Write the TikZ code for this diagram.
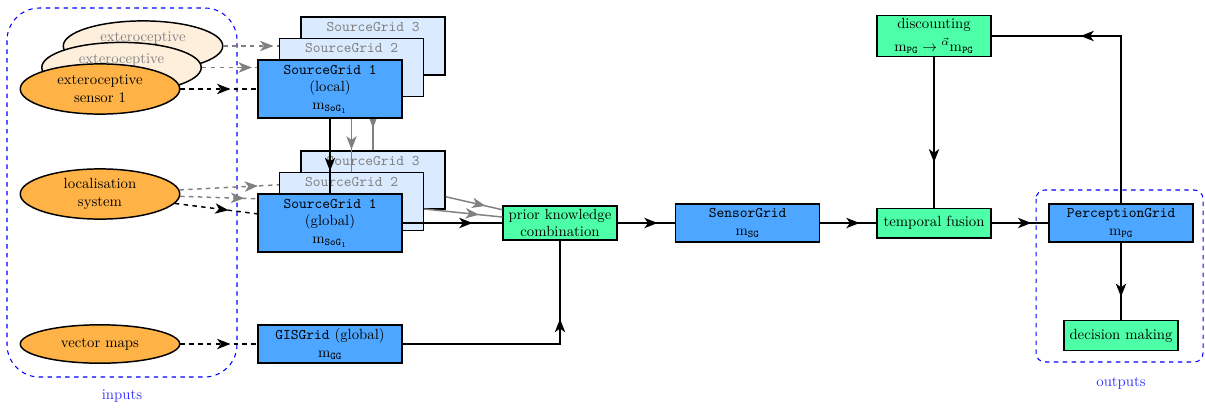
\documentclass[tikz,border=0pt]{standalone}
\usepackage{amsmath,amssymb}
\usepackage{tikz}
\usetikzlibrary{arrows.meta,positioning,calc,shapes.geometric,decorations.markings}
\definecolor{sensorfill}{HTML}{FFB347}
\definecolor{sensorghost}{HTML}{FDEFDC}
\definecolor{gridfill}{HTML}{4DA6FF}
\definecolor{gridghost}{HTML}{DAEAFF}
\definecolor{procfill}{HTML}{4DFFA6}
\tikzset{
    >={Stealth[length=9pt,width=7pt,inset=2.5pt]},
    every picture/.style={line width=1pt},
    sensor/.style={ellipse,draw,fill=sensorfill,minimum width=108pt,minimum height=34pt,inner sep=1pt,align=center},
    ghostsensor/.style={sensor,fill=sensorghost,text=gray},
    grid/.style={rectangle,draw,fill=gridfill,minimum width=97.5pt,minimum height=26pt,inner sep=2pt,align=center},
    sgrid/.style={grid,minimum height=39pt},
    ghostgrid/.style={sgrid,fill=gridghost,text=gray},
    proc/.style={rectangle,draw,fill=procfill,minimum width=77pt,minimum height=20pt,inner sep=2pt,align=center},
    conn/.style={postaction={decorate},decoration={markings,mark=at position 0.7 with {\arrow{>}}}},
    dconn/.style={dashed,postaction={decorate},decoration={markings,mark=at position 0.65 with {\arrow{>}}}},
    group/.style={draw=blue,dashed,line width=0.7pt},
    grouplabel/.style={text=blue!80}
}

\begin{document}
\begin{tikzpicture}[x=0.6775pt,y=-0.6775pt]
    \useasboundingbox (0,0) rectangle (1205,408);

    % inputs and outputs
    \draw[group,rounded corners=22pt] (7,8) rectangle (237,377);
    \node[grouplabel] (inlabel) at (122,396) {inputs};
    \draw[group,rounded corners=6pt] (1036,190) rectangle (1203,362);
    \node[grouplabel] (outlabel) at (1121,383) {outputs};

    % sensors
    \node[ghostsensor] (ext3) at (143,46) {exteroceptive\\\phantom{sensor 3}};
    \node[ghostsensor] (ext2) at (121.5,67.5) {exteroceptive\\\phantom{sensor 2}};
    \node[sensor] (ext1) at (100,89) {exteroceptive\\sensor 1};
    \node[sensor] (loc) at (100,194) {localisation\\system};
    \node[sensor,minimum height=26pt] (vmap) at (100,344) {vector maps};

    % processing chain
    \node[proc] (prior) at (560,223) {prior knowledge\\combination};
    \node[grid] (sensorgrid) at (747.5,223) {\texttt{SensorGrid}\\$\mathrm{m}_{\texttt{SG}}$};
    \node[proc] (fusion) at (934,223) {temporal fusion};
    \node[proc] (disc) at (934,36) {discounting\\[3pt]$\mathrm{m}_{\texttt{PG}}\rightarrow{}^{\vec{\alpha}}\mathrm{m}_{\texttt{PG}}$};
    \node[grid] (percep) at (1121,223) {\texttt{PerceptionGrid}\\$\mathrm{m}_{\texttt{PG}}$};
    \node[proc] (decide) at (1121,335.5) {decision making};
    \node[grid] (gis) at (330,344) {\texttt{GISGrid} (global)\\$\mathrm{m}_{\texttt{GG}}$};

    % stacked source grids, back to front
    \foreach \i/\d in {3/43,2/21.5} {
        \node[ghostgrid] (sgl\i) at (330+\d,89-\d) {\texttt{SourceGrid \i}\\\phantom{(local)}\\\phantom{$\mathrm{m}_{\texttt{SoG}_1}$}};
        \node[ghostgrid] (sgg\i) at (330+\d,223-\d) {\texttt{SourceGrid \i}\\\phantom{(global)}\\\phantom{$\mathrm{m}_{\texttt{SoG}_1}$}};
        \draw[dconn,gray] (ext\i) -- (sgl\i);
        \draw[conn,gray] (sgl\i) -- (sgg\i);
        \draw[dconn,gray] (loc) -- (sgg\i);
        \draw[conn,gray] (sgg\i) -- (prior);
    }
    \node[sgrid] (sgl1) at (330,89) {\texttt{SourceGrid 1}\\(local)\\$\mathrm{m}_{\texttt{SoG}_1}$};
    \node[sgrid] (sgg1) at (330,223) {\texttt{SourceGrid 1}\\(global)\\$\mathrm{m}_{\texttt{SoG}_1}$};
    \draw[dconn] (ext1) -- (sgl1);
    \draw[conn] (sgl1) -- (sgg1);
    \draw[dconn] (loc) -- (sgg1);
    \draw[conn] (sgg1) -- (prior);

    % connections
    \draw[dconn] (vmap) -- (gis);
    \draw[conn] (gis) -| (prior);
    \draw[conn] (prior) -- (sensorgrid);
    \draw[conn] (sensorgrid) -- (fusion);
    \draw[conn] (fusion) -- (percep);
    \draw[conn] (disc) -- (fusion);
    \draw[conn] (percep) |- (disc);
    \draw[conn] (percep) -- (decide);
\end{tikzpicture}
\end{document}
